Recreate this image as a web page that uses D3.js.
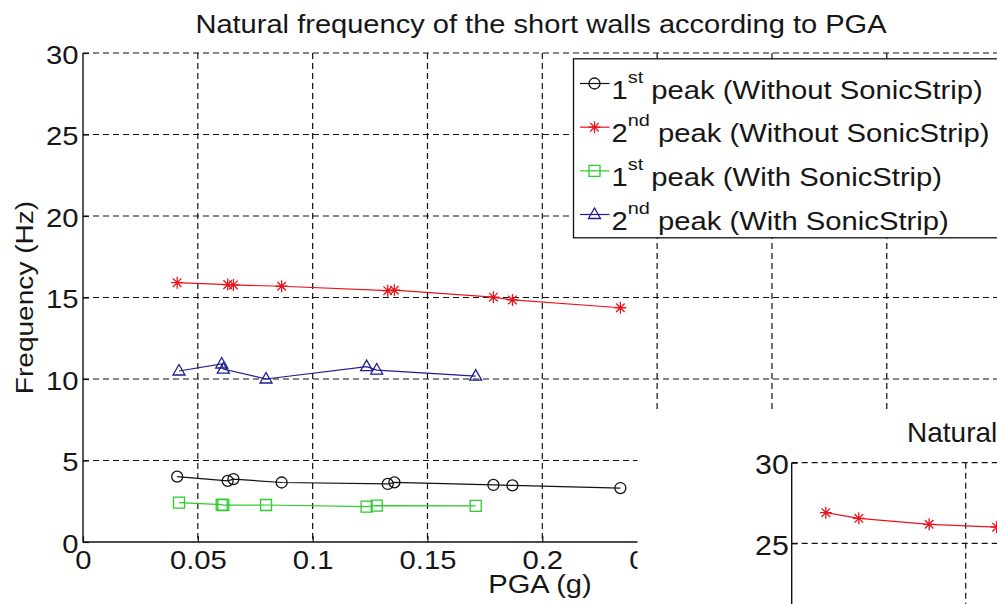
<!DOCTYPE html>
<html>
<head>
<meta charset="utf-8">
<script src="https://cdn.jsdelivr.net/npm/d3@7/dist/d3.min.js"></script>
<style>
  html, body { margin: 0; padding: 0; background: #fff; }
  svg { display: block; overflow: hidden; }
  text { font-family: "Liberation Sans", Arial, Helvetica, sans-serif; fill: #161616; }
</style>
</head>
<body>
<svg id="chart" width="997" height="604"></svg>
<script>
// ---- Data: natural frequency of the short walls vs PGA ----
const pgaWithout   = [0.041, 0.063, 0.0655, 0.0865, 0.1327, 0.1356, 0.1787, 0.187, 0.234];
const peak1Without = [4.01, 3.75, 3.86, 3.65, 3.56, 3.66, 3.50, 3.47, 3.31];
const peak2Without = [15.91, 15.79, 15.77, 15.69, 15.42, 15.45, 15.02, 14.85, 14.37];

const pgaWith   = [0.0418, 0.0604, 0.0611, 0.0797, 0.1235, 0.1279, 0.171];
const peak1With = [2.41, 2.29, 2.26, 2.27, 2.17, 2.23, 2.22];
const peak2With = [10.49, 10.92, 10.61, 10.0, 10.76, 10.55, 10.18];

const xGridTicks  = [0.05, 0.1, 0.15, 0.2, 0.25, 0.3, 0.35, 0.4];
const xLabelTicks = [0, 0.05, 0.1, 0.15, 0.2, 0.25];
const yTicks = [0, 5, 10, 15, 20, 25, 30];

const seriesNames = [
  { num: "1", sup: "st", rest: " peak (Without SonicStrip)" },
  { num: "2", sup: "nd", rest: " peak (Without SonicStrip)" },
  { num: "1", sup: "st", rest: " peak (With SonicStrip)" },
  { num: "2", sup: "nd", rest: " peak (With SonicStrip)" }
];

// Second figure (partly visible, lower right)
const insetPga   = [0.0098, 0.0193, 0.0395, 0.0589];
const insetFreq  = [26.9, 26.55, 26.18, 26.0];
const insetXGrid = [0.05];
const insetYTicks = [25, 30];

// ---- Setup ----
const svg = d3.select("#chart");
const W = 997, H = 604;
const SX = 1.17;            // horizontal stretch of the label font
svg.append("rect").attr("width", W).attr("height", H).attr("fill", "#fff");

const x = d3.scaleLinear().domain([0, 0.4]).range([83, 83 + 0.4 * 2296.5]);
const y = d3.scaleLinear().domain([0, 30]).range([542, 53]);

const styles = [
  { color: "#111111", marker: "circle" },
  { color: "#e8141c", marker: "star" },
  { color: "#2ccc2c", marker: "square" },
  { color: "#1e1e92", marker: "triangle" }
];

function circlePath(r) { return `M${r},0A${r},${r} 0 1,1 ${-r},0A${r},${r} 0 1,1 ${r},0Z`; }
function shape(type) {
  if (type === "circle") return circlePath(5.5);
  if (type === "square") return "M-5.5,-5.5H5.5V5.5H-5.5Z";
  if (type === "triangle") return "M0,-6.5L6,4L-6,4Z";
  const s = 6, a = 4.3;
  return `M${-s},0L${s},0M0,${-s}L0,${s}M${-a},${-a}L${a},${a}M${-a},${a}L${a},${-a}`;
}

function stretchedText(parent, px, py, str, size, anchor, sx) {
  const g = parent.append("g").attr("transform", `translate(${px},${py}) scale(${sx},1)`);
  return g.append("text").attr("font-size", size).attr("text-anchor", anchor).text(str);
}

// ---- Main chart ----
const main = svg.append("g");

// dashed grid
const grid = main.append("g").attr("stroke", "#111").attr("stroke-width", 1.2)
  .attr("stroke-dasharray", "6,4");
grid.selectAll("line.v").data(xGridTicks).join("line")
  .attr("x1", d => x(d)).attr("x2", d => x(d))
  .attr("y1", y(30)).attr("y2", y(0));
grid.selectAll("line.h").data(yTicks.filter(d => d > 0)).join("line")
  .attr("x1", x(0)).attr("x2", x(0.4))
  .attr("y1", d => y(d)).attr("y2", d => y(d));

// axes (ticks point inward)
const xAxis = main.append("g").attr("transform", `translate(0,${y(0)})`)
  .call(d3.axisBottom(x).tickValues(xLabelTicks).tickFormat(d3.format("~g"))
    .tickSizeInner(-6).tickSizeOuter(0).tickPadding(9.5));
const yAxis = main.append("g").attr("transform", `translate(${x(0)},0)`)
  .call(d3.axisLeft(y).tickValues(yTicks).tickFormat(d3.format("~g"))
    .tickSizeInner(-6).tickSizeOuter(0).tickPadding(4));
[xAxis, yAxis].forEach(a => {
  a.select(".domain").remove();
  a.selectAll(".tick line").attr("stroke", "#111").attr("stroke-width", 1.2);
  a.selectAll(".tick text").attr("font-size", 25).attr("fill", "#161616")
    .attr("font-family", "'Liberation Sans', Arial, sans-serif");
});
xAxis.selectAll(".tick text").attr("transform", `scale(${SX},1)`);
yAxis.selectAll(".tick text").attr("x", 0).attr("dy", "0.4em")
  .attr("transform", `translate(-4.5,0) scale(${SX},1)`);

main.append("line").attr("x1", x(0)).attr("x2", x(0)).attr("y1", y(30)).attr("y2", y(0) + 0.6)
  .attr("stroke", "#111").attr("stroke-width", 1.4);
main.append("line").attr("x1", x(0)).attr("x2", x(0.4)).attr("y1", y(0)).attr("y2", y(0))
  .attr("stroke", "#111").attr("stroke-width", 1.4);

// series
const seriesData = [
  pgaWithout.map((p, i) => ({ pga: p, f: peak1Without[i] })),
  pgaWithout.map((p, i) => ({ pga: p, f: peak2Without[i] })),
  pgaWith.map((p, i) => ({ pga: p, f: peak1With[i] })),
  pgaWith.map((p, i) => ({ pga: p, f: peak2With[i] }))
];
const line = d3.line().x(d => x(d.pga)).y(d => y(d.f));
seriesData.forEach((data, k) => {
  const st = styles[k];
  const g = main.append("g");
  g.append("path").attr("d", line(data)).attr("fill", "none")
    .attr("stroke", st.color).attr("stroke-width", 1.2);
  g.selectAll("path.m").data(data).join("path")
    .attr("transform", d => `translate(${x(d.pga)},${y(d.f)})`)
    .attr("d", shape(st.marker)).attr("fill", "none")
    .attr("stroke", st.color).attr("stroke-width", 1.3);
});

// legend
const leg = main.append("g");
leg.append("rect").attr("x", 573.5).attr("y", 58.8).attr("width", 440).attr("height", 179)
  .attr("fill", "#fff").attr("stroke", "#111").attr("stroke-width", 1.3);
const rowY = d3.scaleLinear().domain([0, 3]).range([83.5, 214.5]);
seriesNames.forEach((s, k) => {
  const st = styles[k];
  const cy = rowY(k);
  leg.append("line").attr("x1", 580).attr("x2", 609.5).attr("y1", cy).attr("y2", cy)
    .attr("stroke", st.color).attr("stroke-width", 1.2);
  leg.append("path").attr("transform", `translate(594.5,${cy})`).attr("d", shape(st.marker))
    .attr("fill", "none").attr("stroke", st.color).attr("stroke-width", 1.3);
  const t = stretchedText(leg, 611.5, cy + 15, "", 25, "start", SX);
  t.append("tspan").text(s.num);
  t.append("tspan").attr("font-size", 17).attr("dy", -16).text(s.sup);
  t.append("tspan").attr("dy", 16).text(s.rest);
});

// title and axis labels
stretchedText(main, 541, 32.5, "Natural frequency of the short walls according to PGA", 25.5, "middle", 1.14);
stretchedText(main, 540, 593, "PGA (g)", 26, "middle", 1.12);
main.append("g").attr("transform", `translate(33,${(y(0) + y(30)) / 2}) rotate(-90) scale(${SX},1)`)
  .append("text").attr("font-size", 24).attr("text-anchor", "middle").text("Frequency (Hz)");

// ---- Second figure overlapping the lower right ----
svg.append("rect").attr("x", 637.5).attr("y", 412).attr("width", 400).attr("height", 220).attr("fill", "#fff");
const inset = svg.append("g");
const ix = d3.scaleLinear().domain([0, 0.05]).range([791.7, 965.7]);
const iy = d3.scaleLinear().domain([25, 30]).range([543.3, 462.7]);

const igrid = inset.append("g").attr("stroke", "#111").attr("stroke-width", 1.2)
  .attr("stroke-dasharray", "6,4");
igrid.selectAll("line.v").data(insetXGrid).join("line")
  .attr("x1", d => ix(d)).attr("x2", d => ix(d)).attr("y1", iy(30)).attr("y2", H + 10);
igrid.selectAll("line.h").data(insetYTicks).join("line")
  .attr("x1", ix(0)).attr("x2", W + 10).attr("y1", d => iy(d)).attr("y2", d => iy(d));

const iyAxis = inset.append("g").attr("transform", `translate(${ix(0)},0)`)
  .call(d3.axisLeft(iy).tickValues(insetYTicks).tickFormat(d3.format("~g"))
    .tickSizeInner(-6).tickSizeOuter(0).tickPadding(4));
iyAxis.select(".domain").remove();
iyAxis.selectAll(".tick line").attr("stroke", "#111").attr("stroke-width", 1.2);
iyAxis.selectAll(".tick text").attr("font-size", 28).attr("fill", "#161616")
  .attr("font-family", "'Liberation Sans', Arial, sans-serif")
  .attr("x", 0).attr("dy", "0.4em").attr("transform", "translate(-3,0) scale(1.08,1)");
inset.append("line").attr("x1", ix(0)).attr("x2", ix(0)).attr("y1", iy(30)).attr("y2", H + 10)
  .attr("stroke", "#111").attr("stroke-width", 1.4);

const insetData = insetPga.map((p, i) => ({ pga: p, f: insetFreq[i] }));
const iline = d3.line().x(d => ix(d.pga)).y(d => iy(d.f));
inset.append("path").attr("d", iline(insetData)).attr("fill", "none")
  .attr("stroke", styles[1].color).attr("stroke-width", 1.2);
inset.selectAll("path.m").data(insetData).join("path")
  .attr("transform", d => `translate(${ix(d.pga)},${iy(d.f)})`)
  .attr("d", shape("star")).attr("fill", "none")
  .attr("stroke", styles[1].color).attr("stroke-width", 1.3);

stretchedText(inset, 907, 441.5, "Natural", 28, "start", 1.0);
</script>
</body>
</html>
